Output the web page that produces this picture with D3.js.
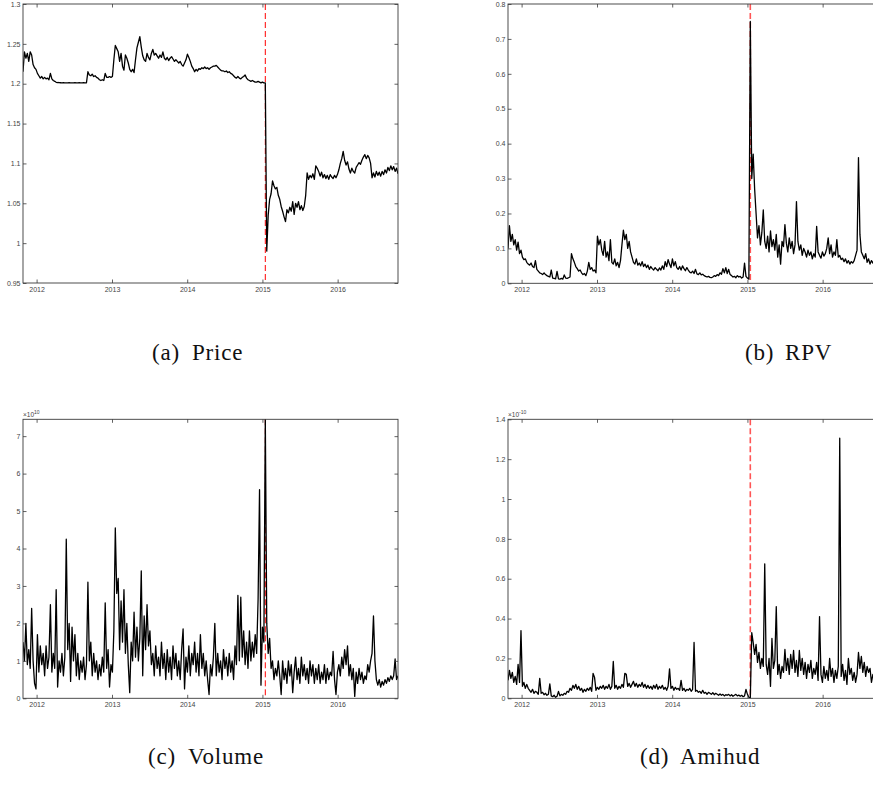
<!DOCTYPE html>
<html><head><meta charset="utf-8">
<script src="https://cdn.jsdelivr.net/npm/d3@7"></script>
<style>body{margin:0;background:#fff} svg{display:block}</style>
</head><body><svg id="chart" width="873" height="785"></svg>
<script>
// ---------- data ----------
const startDate = new Date(2011, 9, 27);   // first weekly observation
const stepDays = 7;                          // one observation per week
const eventDate = new Date(2015, 0, 15);     // SNB removes the floor
const xDomain = [new Date(2011, 9, 27), new Date(2016, 9, 20)];
const yearTicks = [2012, 2013, 2014, 2015, 2016];

const priceValues = [
1.215,1.240,1.232,1.238,1.228,1.240,1.236,1.224,1.220,1.218,
1.213,1.210,1.207,1.209,1.206,1.208,1.206,1.207,1.205,1.213,
1.206,1.204,1.203,1.2018,1.2015,1.2013,1.2012,1.2011,1.2012,1.2010,
1.2011,1.2010,1.2012,1.2011,1.2010,1.2011,1.2012,1.2010,1.2011,1.2012,
1.2011,1.2010,1.2012,1.2011,1.2012,1.215,1.211,1.210,1.212,1.209,
1.210,1.208,1.207,1.205,1.204,1.205,1.204,1.213,1.208,1.208,
1.209,1.208,1.209,1.230,1.248,1.244,1.240,1.228,1.238,1.222,
1.217,1.236,1.232,1.226,1.218,1.215,1.218,1.214,1.230,1.245,
1.252,1.259,1.246,1.235,1.230,1.228,1.238,1.233,1.230,1.238,
1.243,1.236,1.238,1.235,1.232,1.236,1.233,1.240,1.232,1.230,
1.233,1.229,1.232,1.234,1.231,1.228,1.230,1.228,1.226,1.228,
1.224,1.222,1.226,1.230,1.237,1.233,1.228,1.222,1.219,1.215,
1.218,1.216,1.219,1.218,1.220,1.219,1.221,1.219,1.220,1.218,
1.220,1.221,1.222,1.222,1.223,1.221,1.219,1.217,1.216,1.216,
1.215,1.216,1.214,1.215,1.213,1.212,1.210,1.208,1.207,1.209,
1.207,1.206,1.208,1.209,1.211,1.207,1.205,1.204,1.203,1.204,
1.203,1.202,1.202,1.203,1.202,1.201,1.202,1.201,1.201,0.990,
1.035,1.055,1.062,1.078,1.072,1.068,1.070,1.060,1.055,1.046,
1.040,1.033,1.027,1.042,1.038,1.045,1.040,1.052,1.036,1.050,
1.045,1.052,1.042,1.047,1.041,1.046,1.060,1.088,1.080,1.085,
1.082,1.087,1.080,1.097,1.094,1.090,1.084,1.089,1.082,1.086,
1.081,1.085,1.080,1.086,1.083,1.081,1.085,1.082,1.086,1.092,
1.100,1.106,1.115,1.104,1.098,1.102,1.093,1.088,1.094,1.090,
1.088,1.095,1.098,1.101,1.099,1.104,1.108,1.111,1.106,1.110,
1.107,1.100,1.082,1.088,1.083,1.090,1.085,1.089,1.084,1.090,
1.086,1.092,1.088,1.095,1.091,1.097,1.092,1.096,1.090,1.094,
1.087];

const rpvValues = [
0.100,0.165,0.120,0.140,0.110,0.125,0.095,0.118,0.085,0.095,
0.075,0.068,0.070,0.060,0.055,0.052,0.058,0.048,0.045,0.065,
0.040,0.035,0.030,0.028,0.025,0.030,0.025,0.022,0.020,0.018,
0.038,0.015,0.014,0.013,0.034,0.013,0.012,0.014,0.012,0.024,
0.015,0.014,0.016,0.018,0.085,0.070,0.060,0.048,0.042,0.035,
0.038,0.030,0.025,0.028,0.022,0.035,0.060,0.040,0.045,0.035,
0.038,0.030,0.135,0.110,0.125,0.095,0.080,0.120,0.075,0.090,
0.065,0.125,0.060,0.055,0.070,0.050,0.060,0.045,0.065,0.110,
0.152,0.125,0.140,0.100,0.120,0.090,0.075,0.060,0.055,0.070,
0.052,0.058,0.050,0.062,0.048,0.055,0.045,0.052,0.040,0.048,
0.042,0.038,0.045,0.040,0.036,0.044,0.038,0.050,0.040,0.062,
0.048,0.068,0.055,0.045,0.070,0.050,0.062,0.045,0.040,0.048,
0.038,0.050,0.042,0.036,0.045,0.038,0.032,0.030,0.035,0.028,
0.040,0.027,0.025,0.030,0.024,0.026,0.022,0.020,0.018,0.020,
0.017,0.016,0.018,0.022,0.020,0.025,0.022,0.030,0.026,0.042,
0.030,0.045,0.028,0.040,0.025,0.022,0.018,0.020,0.016,0.022,
0.018,0.020,0.015,0.018,0.058,0.020,0.015,0.012,0.750,0.300,
0.370,0.270,0.200,0.130,0.165,0.110,0.145,0.210,0.120,0.100,
0.135,0.090,0.150,0.105,0.125,0.095,0.140,0.075,0.110,0.055,
0.120,0.105,0.168,0.115,0.090,0.130,0.100,0.120,0.085,0.110,
0.234,0.120,0.095,0.110,0.080,0.100,0.090,0.075,0.095,0.080,
0.090,0.070,0.085,0.075,0.163,0.090,0.080,0.072,0.090,0.078,
0.085,0.100,0.130,0.085,0.110,0.075,0.090,0.080,0.125,0.075,
0.080,0.068,0.072,0.062,0.070,0.058,0.065,0.055,0.062,0.058,
0.065,0.080,0.095,0.360,0.140,0.090,0.080,0.070,0.085,0.060,
0.070,0.055,0.065,0.058,0.068,0.060,0.070,0.062,0.066,0.058,
0.064];

// volume in units of 10^10
const volumeValues = [
1.5,1.0,2.0,0.9,1.3,0.8,2.4,1.0,0.4,0.25,
1.7,0.7,1.4,0.9,1.2,0.6,1.4,0.8,1.1,2.5,
0.7,1.2,0.8,2.9,0.3,1.0,0.7,1.2,0.6,1.1,
4.25,1.3,2.0,0.45,1.9,1.0,1.7,0.6,1.2,0.5,
1.0,0.7,1.1,0.5,0.9,3.1,1.0,1.5,0.6,1.2,
0.7,1.0,0.5,0.9,0.6,1.1,0.7,2.55,0.8,1.3,
0.3,0.9,0.7,1.8,4.55,2.8,3.2,1.3,2.6,1.5,
2.9,1.2,2.0,0.9,0.15,1.5,1.0,2.3,1.1,1.9,
1.0,1.6,3.4,0.6,2.2,1.3,2.5,1.4,1.8,0.9,
1.2,0.6,1.4,0.8,1.1,0.6,1.5,0.8,1.2,0.5,
1.3,0.7,1.1,0.5,1.4,0.8,1.2,0.6,1.0,0.5,
1.3,1.85,0.25,1.1,0.7,1.4,0.6,1.2,0.9,1.5,
0.7,1.2,0.6,1.7,0.8,1.2,0.6,1.0,0.5,0.1,
0.9,0.6,1.1,2.0,0.6,1.2,0.7,1.0,0.5,1.3,
0.8,1.1,0.6,1.2,0.7,1.0,0.5,1.4,0.9,2.75,
1.0,2.7,1.1,1.8,0.9,1.5,0.8,1.8,1.0,1.5,
1.1,1.7,1.2,2.65,5.57,0.35,1.9,1.5,7.45,2.0,
1.2,1.6,0.8,1.0,0.5,0.8,0.6,1.0,0.6,0.1,
1.0,0.5,0.8,0.4,1.0,0.6,0.9,0.15,0.7,1.1,
0.5,0.8,0.4,1.1,0.6,0.9,0.5,0.8,0.4,1.0,
0.6,0.9,0.4,0.8,0.5,0.9,0.4,0.7,0.5,0.9,
0.4,0.8,0.5,0.7,0.6,1.25,0.5,0.1,0.7,0.9,
0.6,1.1,0.8,1.3,0.9,1.4,0.6,0.9,0.5,0.8,
0.05,0.7,0.4,0.8,0.5,0.7,0.4,0.6,0.5,0.9,
0.7,1.0,1.2,2.2,1.0,0.5,0.35,0.5,0.3,0.45,
0.35,0.5,0.4,0.55,0.45,0.6,0.5,0.6,1.05,0.5,
0.6];

// Amihud in units of 10^-10
const amihudValues = [
0.09,0.14,0.10,0.13,0.08,0.11,0.07,0.17,0.08,0.34,
0.06,0.08,0.05,0.07,0.05,0.04,0.03,0.045,0.025,0.035,
0.03,0.02,0.10,0.025,0.03,0.018,0.025,0.015,0.02,0.072,
0.012,0.008,0.015,0.005,0.01,0.035,0.012,0.02,0.015,0.025,
0.02,0.035,0.03,0.05,0.04,0.065,0.05,0.07,0.045,0.06,
0.04,0.05,0.03,0.045,0.035,0.05,0.04,0.055,0.035,0.125,
0.105,0.04,0.055,0.045,0.06,0.05,0.065,0.045,0.06,0.05,
0.07,0.045,0.06,0.185,0.05,0.065,0.045,0.06,0.05,0.07,
0.055,0.125,0.12,0.06,0.075,0.055,0.07,0.085,0.06,0.075,
0.055,0.07,0.06,0.08,0.055,0.07,0.05,0.065,0.05,0.06,
0.045,0.065,0.05,0.07,0.045,0.06,0.05,0.065,0.045,0.055,
0.04,0.06,0.148,0.05,0.06,0.04,0.055,0.045,0.05,0.04,
0.09,0.04,0.05,0.035,0.045,0.04,0.05,0.035,0.045,0.28,
0.035,0.04,0.03,0.035,0.025,0.04,0.025,0.03,0.02,0.03,
0.025,0.02,0.028,0.018,0.025,0.02,0.015,0.022,0.015,0.02,
0.012,0.018,0.015,0.02,0.012,0.018,0.01,0.015,0.02,0.012,
0.016,0.01,0.015,0.008,0.012,0.045,0.02,0.005,0.0,0.33,
0.28,0.22,0.27,0.18,0.23,0.15,0.2,0.16,0.675,0.17,
0.12,0.2,0.06,0.30,0.15,0.19,0.46,0.12,0.17,0.10,
0.16,0.13,0.245,0.14,0.20,0.12,0.22,0.15,0.24,0.13,
0.19,0.11,0.24,0.14,0.20,0.12,0.18,0.10,0.17,0.13,
0.19,0.10,0.15,0.12,0.18,0.09,0.41,0.12,0.08,0.16,
0.10,0.14,0.09,0.20,0.11,0.15,0.08,0.14,0.10,0.16,
1.305,0.11,0.17,0.09,0.14,0.07,0.20,0.12,0.15,0.09,
0.13,0.08,0.12,0.23,0.15,0.21,0.13,0.18,0.11,0.16,
0.13,0.15,0.08,0.12,0.10,0.14,0.09,0.13,0.10,0.12,
0.09];

const priceTicks = [0.95, 1, 1.05, 1.1, 1.15, 1.2, 1.25, 1.3];
const priceTickLabels = ['0.95', '1', '1.05', '1.1', '1.15', '1.2', '1.25', '1.3'];
const rpvTicks = [0, 0.1, 0.2, 0.3, 0.4, 0.5, 0.6, 0.7, 0.8];
const rpvTickLabels = ['0', '0.1', '0.2', '0.3', '0.4', '0.5', '0.6', '0.7', '0.8'];
const volumeTicks = [0, 1, 2, 3, 4, 5, 6, 7];
const volumeTickLabels = ['0', '1', '2', '3', '4', '5', '6', '7'];
const amihudTicks = [0, 0.2, 0.4, 0.6, 0.8, 1, 1.2, 1.4];
const amihudTickLabels = ['0', '0.2', '0.4', '0.6', '0.8', '1', '1.2', '1.4'];

const captionLetters = ['(a)', '(b)', '(c)', '(d)'];
const captionNames = ['Price', 'RPV', 'Volume', 'Amihud'];

// ---------- layout ----------
const panels = [
  {values: priceValues, yDomain: [0.95, 1.3], ticks: priceTicks, labels: priceTickLabels, exp: null,
   left: 23, top: 4, w: 375, h: 279, ev: '#ff0000', evW: 1, capX: 152, capY: 360},
  {values: rpvValues, yDomain: [0, 0.8], ticks: rpvTicks, labels: rpvTickLabels, exp: null,
   left: 508, top: 4, w: 375, h: 279.3, ev: '#ff5555', evW: 1.6, capX: 745, capY: 360},
  {values: volumeValues, yDomain: [0, 7.45], ticks: volumeTicks, labels: volumeTickLabels, exp: '10',
   left: 23, top: 419.3, w: 375, h: 279, ev: '#ff0000', evW: 1, capX: 148, capY: 764},
  {values: amihudValues, yDomain: [0, 1.4], ticks: amihudTicks, labels: amihudTickLabels, exp: '-10',
   left: 508, top: 419.3, w: 375, h: 279, ev: '#ff5555', evW: 1.6, capX: 640, capY: 764}
];

const sansFont = "'Liberation Sans', Arial, sans-serif";
const serifFont = "'Liberation Serif', 'Times New Roman', serif";

const svg = d3.select('#chart');
svg.append('rect').attr('width', 873).attr('height', 785).attr('fill', '#fff');

const axisColor = '#3a3a3a';
const labelColor = '#444';
const tickLen = 3.5;

panels.forEach((p, k) => {
  const x = d3.scaleTime().domain(xDomain).range([0, p.w]);
  const y = d3.scaleLinear().domain(p.yDomain).range([p.h, 0]);
  const data = p.values.map((v, i) => ({date: d3.timeDay.offset(startDate, i * stepDays), value: v}));

  const g = svg.append('g').attr('transform', `translate(${p.left},${p.top})`);
  const clipId = 'clip' + k;
  g.append('clipPath').attr('id', clipId).append('rect')
    .attr('x', 0).attr('y', 0).attr('width', p.w).attr('height', p.h);

  // event line (below the data)
  g.append('line')
    .attr('x1', x(eventDate)).attr('x2', x(eventDate))
    .attr('y1', 0).attr('y2', p.h)
    .attr('stroke', p.ev).attr('stroke-width', p.evW)
    .attr('stroke-dasharray', '6,3');

  // data line
  g.append('path').datum(data)
    .attr('clip-path', `url(#${clipId})`)
    .attr('fill', 'none').attr('stroke', '#000').attr('stroke-width', 1.3)
    .attr('stroke-linejoin', 'round')
    .attr('d', d3.line().x(d => x(d.date)).y(d => y(d.value)));

  const yearDates = yearTicks.map(yr => new Date(yr, 0, 1));

  const styleAxis = sel => {
    sel.attr('font-family', sansFont).attr('font-size', 7);
    sel.select('.domain').remove();
    sel.selectAll('.tick line').attr('stroke', axisColor).attr('stroke-width', 0.8);
    sel.selectAll('.tick text').attr('fill', labelColor);
  };

  g.append('g').attr('transform', `translate(0,${p.h})`)
    .call(d3.axisBottom(x).tickValues(yearDates).tickFormat(d3.timeFormat('%Y'))
      .tickSizeInner(-tickLen).tickSizeOuter(0).tickPadding(4))
    .call(styleAxis);
  g.append('g')
    .call(d3.axisTop(x).tickValues(yearDates).tickFormat('')
      .tickSizeInner(-tickLen).tickSizeOuter(0))
    .call(styleAxis);
  g.append('g')
    .call(d3.axisLeft(y).tickValues(p.ticks).tickFormat((d, i) => p.labels[i])
      .tickSizeInner(-tickLen).tickSizeOuter(0).tickPadding(2.5))
    .call(styleAxis);
  g.append('g').attr('transform', `translate(${p.w},0)`)
    .call(d3.axisRight(y).tickValues(p.ticks).tickFormat('')
      .tickSizeInner(-tickLen).tickSizeOuter(0))
    .call(styleAxis);

  // box
  g.append('rect').attr('x', 0).attr('y', 0).attr('width', p.w).attr('height', p.h)
    .attr('fill', 'none').attr('stroke', axisColor).attr('stroke-width', 0.9);

  // exponent label
  if (p.exp) {
    const t = g.append('text').attr('x', 0).attr('y', -2)
      .attr('font-family', sansFont).attr('font-size', 6.5)
      .attr('fill', labelColor);
    t.append('tspan').text('\u00d710');
    t.append('tspan').attr('dy', -3).attr('font-size', 5).text(p.exp);
  }

  // caption
  const cap = svg.append('text').attr('y', p.capY)
    .attr('font-family', serifFont).attr('font-size', 23)
    .attr('letter-spacing', 0.8).attr('fill', '#111');
  cap.append('tspan').attr('x', p.capX).text(captionLetters[k]);
  cap.append('tspan').attr('x', p.capX + 40).text(captionNames[k]);
});
</script>
</body></html>
